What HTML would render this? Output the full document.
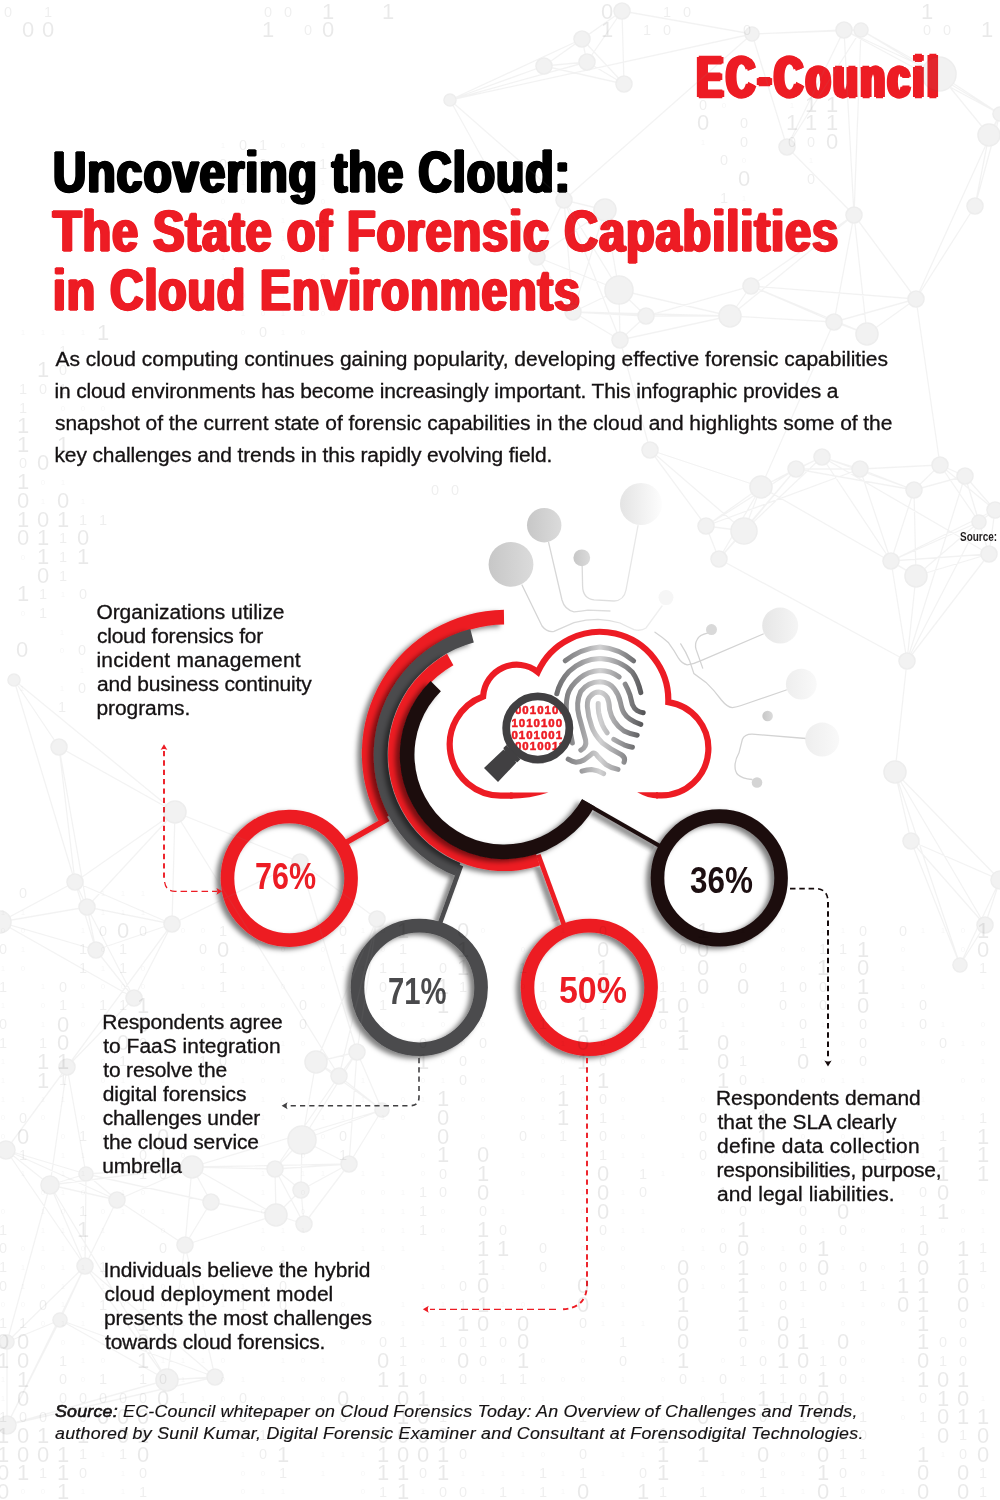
<!DOCTYPE html>
<html lang="en">
<head>
<meta charset="utf-8">
<title>Uncovering the Cloud: The State of Forensic Capabilities in Cloud Environments</title>
<style>
*{box-sizing:border-box;margin:0;padding:0}
html,body{width:1000px;height:1500px;background:#fff;overflow:hidden}
body{font-family:"Liberation Sans",sans-serif;color:#1d1a1b;position:relative}
#page{position:relative;width:1000px;height:1500px;overflow:hidden;background:#fff}
#bg,#art{position:absolute;left:0;top:0;width:1000px;height:1500px}
#bg{pointer-events:none}
.abs{position:absolute;white-space:nowrap}
.logo{left:697.4px;top:44px;font-weight:700;font-size:57px;line-height:66px;color:#ed1c24;transform-origin:0 0;transform:scaleX(.685);letter-spacing:5px;-webkit-text-stroke:2.4px #ed1c24;text-shadow:4px 0 0 #ed1c24,-4px 0 0 #ed1c24,2px 0 0 #ed1c24,-2px 0 0 #ed1c24}
h1{position:absolute;left:52.6px;top:142.6px;font-weight:700;font-size:57px;line-height:59px;color:#000;white-space:nowrap;letter-spacing:1.4px;-webkit-text-stroke:1.4px currentColor;text-shadow:2px 0 0 currentColor,-2px 0 0 currentColor,1px 0 0 currentColor,-1px 0 0 currentColor}
h1 span{display:block;transform-origin:0 0;transform:scaleX(.80)}
h1 .red{color:#ed1c24}
.intro,.label,.source{position:absolute;white-space:nowrap;color:#151213;transform-origin:0 0;transform:scaleX(1.075);-webkit-text-stroke:.3px #151213}
.intro span,.label span,.source span{display:block}
.pct{position:absolute;font-weight:700;font-size:36px;line-height:36px;white-space:nowrap;transform-origin:0 0;transform:scaleX(.88)}
.source{font-style:italic;-webkit-text-stroke:.15px #151213}
.source b{font-weight:400;-webkit-text-stroke:.6px #151213}
.src2{position:absolute;left:960px;top:529.5px;font-size:12px;font-weight:700;line-height:14px;white-space:nowrap;color:#1d1a1b;transform-origin:0 0;transform:scaleX(.83)}
</style>
</head>
<body>
<div id="page">
<svg id="art" width="1000" height="1500" viewBox="0 0 1000 1500">
<defs>
<filter id="sh" x="-20%" y="-20%" width="140%" height="140%"><feDropShadow dx="-4.6" dy="2.6" stdDeviation="2.6" flood-color="#000" flood-opacity=".5"/></filter>
<linearGradient id="fp" gradientUnits="userSpaceOnUse" x1="554" y1="0" x2="646" y2="0">
<stop offset="0" stop-color="#6a6a6c"/><stop offset=".3" stop-color="#9d9d9f"/><stop offset=".5" stop-color="#d2d2d3"/><stop offset=".7" stop-color="#9d9d9f"/><stop offset="1" stop-color="#4f4f51"/></linearGradient>
<linearGradient id="cg" x1="0" y1="0" x2="1" y2="0"><stop offset="0" stop-color="#c7c7c7"/><stop offset="1" stop-color="#dbdbdb"/></linearGradient>
<linearGradient id="cg2" x1="0" y1="0" x2="1" y2="0"><stop offset="0" stop-color="#e4e4e4"/><stop offset="1" stop-color="#fdfdfd"/></linearGradient>
<linearGradient id="cg3" x1="0" y1="0" x2="1" y2="0"><stop offset="0" stop-color="#e6e6e6"/><stop offset="1" stop-color="#f5f5f5"/></linearGradient>
<linearGradient id="cg4" x1="0" y1="0" x2="1" y2="0"><stop offset="0" stop-color="#eeeeee"/><stop offset="1" stop-color="#f9f9f9"/></linearGradient>
<linearGradient id="lg" gradientUnits="userSpaceOnUse" x1="520" y1="0" x2="665" y2="0"><stop offset="0" stop-color="#d2d2d2"/><stop offset=".6" stop-color="#dedede"/><stop offset="1" stop-color="#f2f2f2"/></linearGradient>
<linearGradient id="s36" gradientUnits="userSpaceOnUse" x1="593.9" y1="810.8" x2="589.2" y2="819.0"><stop offset="0" stop-color="#000" stop-opacity=".2"/><stop offset=".5" stop-color="#000" stop-opacity=".08"/><stop offset="1" stop-color="#000" stop-opacity="0"/></linearGradient><linearGradient id="s50" gradientUnits="userSpaceOnUse" x1="540.2" y1="866.9" x2="532.2" y2="869.8"><stop offset="0" stop-color="#000" stop-opacity=".2"/><stop offset=".5" stop-color="#000" stop-opacity=".08"/><stop offset="1" stop-color="#000" stop-opacity="0"/></linearGradient><linearGradient id="s71" gradientUnits="userSpaceOnUse" x1="454.8" y1="875.9" x2="448.7" y2="873.7"><stop offset="0" stop-color="#000" stop-opacity=".2"/><stop offset=".5" stop-color="#000" stop-opacity=".08"/><stop offset="1" stop-color="#000" stop-opacity="0"/></linearGradient>
<clipPath id="lens"><circle cx="537.8" cy="728" r="28.2"/></clipPath>
</defs>
<!-- circuit decoration -->
<g fill="none" stroke="url(#lg)" stroke-width="1.3" stroke-linecap="round">
<path d="M522,585 L542,626 Q547,632.5 554,631.4 Q564,627 574,622.6 Q586,619.4 598,619.4 Q610,620 620,623 Q628,627 634,629.6 Q641,631.5 646,628 L662,606"/>
<path d="M548.6,542.4 L562,600 Q564.5,609.5 574,611.8 Q581,611.5 588,610.2 L610,611"/>
<path d="M582.2,566 L582.6,586 Q582.8,598.6 594,599.8 L614,601 Q624,600.5 626,590 L638,525.6"/>
</g>
<g fill="none" stroke="#d3d3d3" stroke-width="1.3" stroke-linecap="round">
<path d="M655,632.2 Q663,637.5 668.6,642.8 Q674,650 678.5,658.2 Q682,664 687.3,664.8 Q694,664 701.6,660.4 L763.2,634"/>
<path d="M680.7,643.9 Q686,652 689.5,660.4 L693.9,673.6 L706,682.4 Q714,690 721.4,700 Q727,707 732.4,707.7 Q737,707 741.2,705.5 L786.3,690"/>
<path d="M708.2,632.9 Q699,635 697.2,639.5 Q694.5,644 696.1,649.4 L702.7,668.1"/>
<path d="M806,738.5 L752.2,734.1 Q744.5,734 742.3,739.6 L739,752.8 Q735,760 735,766 Q735,772 738,774.8 Q742,778.5 752,779.5"/>
</g>
<g>
<circle cx="511" cy="564.4" r="22.4" fill="url(#cg)"/>
<circle cx="544.2" cy="525.2" r="17.2" fill="url(#cg)"/>
<circle cx="641" cy="504" r="21" fill="url(#cg2)"/>
<circle cx="581.8" cy="557.8" r="8.4" fill="url(#cg)"/>
<circle cx="666" cy="597.6" r="7.5" fill="#f6f6f6"/>
<circle cx="780.2" cy="625.6" r="18" fill="url(#cg3)"/>
<circle cx="711.5" cy="629.6" r="5.5" fill="#d9d9d9"/>
<circle cx="801.3" cy="684.2" r="15.4" fill="url(#cg4)"/>
<circle cx="767.6" cy="716" r="5.3" fill="url(#cg)"/>
<circle cx="822.2" cy="739.6" r="17" fill="url(#cg4)"/>
<circle cx="757" cy="782.5" r="5.3" fill="#d4d4d4"/>
</g>
<!-- lollipops -->
<g><path d="M593.9,810.8 L654.8,845.4 L650.1,853.7 L589.2,819.0Z" fill="url(#s36)"/><path d="M540.2,866.9 L559.5,919.5 L551.5,922.4 L532.2,869.8Z" fill="url(#s50)"/><path d="M454.8,875.9 L438.4,921.0 L432.3,918.8 L448.7,873.7Z" fill="url(#s71)"/></g>
<g filter="url(#sh)" fill="#ed1c24">
<path d="M503.9,609.8 A143.8,143.8 0 0 0 378.7,821.1 L391.8,814.2 A129.0,129.0 0 0 1 504.1,624.6 Z"/>
<path d="M386.7,816.0 L340.1,842.8 L342.9,847.6 L389.5,820.9Z"/>
<circle cx="289.3" cy="878.3" r="61.8" fill="none" stroke="#ed1c24" stroke-width="13.6"/>
</g>
<g filter="url(#sh)" fill="#4b4b4d">
<path d="M470.3,629.1 A130.3,130.3 0 0 0 455.2,875.8 L460.4,863.0 A116.5,116.5 0 0 1 473.8,642.5 Z"/>
<path d="M458.9,864.6 L436.0,927.6 L440.3,929.1 L463.2,866.2Z"/>
<circle cx="419.3" cy="987.4" r="61.8" fill="none" stroke="#4b4b4d" stroke-width="13.6"/>
</g>
<g filter="url(#sh)" fill="#ed1c24">
<path d="M447.0,653.8 A116.2,116.2 0 0 0 539.9,865.5 L535.8,853.0 A103.0,103.0 0 0 1 453.4,665.3 Z"/>
<path d="M536.1,855.6 L563.7,930.9 L568.1,929.3 L540.5,854.0Z"/>
<circle cx="589.3" cy="987.4" r="61.8" fill="none" stroke="#ed1c24" stroke-width="13.6"/>
</g>
<g filter="url(#sh)" fill="#1d0f11">
<path d="M430.6,680.9 A104.3,104.3 0 1 0 594.8,806.4 L582.1,799.2 A89.7,89.7 0 1 1 440.9,691.2 Z"/>
<path d="M582.1,799.2 L665.7,846.9 L663.6,850.5 L580.0,802.8Z"/>
<circle cx="719.3" cy="877.9" r="61.8" fill="none" stroke="#1d0f11" stroke-width="13.6"/>
</g>
<!-- cloud -->
<g>
<path d="M512.6,795.7 H500.6 A51.2,51.2 0 0 1 483.1,696.5 A33.8,33.8 0 0 1 537.8,672.0 A68.3,68.3 0 0 1 668.3,702.1 A46.9,46.9 0 0 1 661.6,795.4 H656" fill="none" stroke="#ed1c24" stroke-width="6.2" stroke-linejoin="miter" stroke-miterlimit="6"/>
<path d="M510,792.6 L548.5,792.6 Q530,798.8 510,798.8Z" fill="#ed1c24"/>
<path d="M658,792.3 L637.2,792.3 Q648,798.5 658,798.5Z" fill="#ed1c24"/>
</g>
<!-- fingerprint -->
<g fill="none" stroke="url(#fp)" stroke-width="5" stroke-linecap="round" stroke-linejoin="round">
<path d="M565.2,660.8 Q581,648.5 600,647 Q619,648.5 633.6,660.8"/>
<path d="M556.8,693.8 Q560,681 569,671.5 Q582,659 600,658.4 Q620,659.5 632.4,672.2 Q638,680 640.8,692.6"/>
<path d="M619.2,677 Q611,670.5 600,670.4 Q588,671 579.6,678.2 Q570,686 567.6,695 Q565,706 567.5,718 L572.4,743"/>
<path d="M580.8,750.2 Q587,747 585.6,740 L579,716 Q575.5,703 580.8,691.4 Q588,682 600,681.8 Q610,682.5 614.4,689 Q619,695 620.4,702.2 Q622,710 624,713 Q628,720 640.8,724.4"/>
<path d="M624,762.2 Q626,757.5 621,754.5 Q610,749 602.4,743 Q594,734 591.6,726.2 Q588,716 587.4,707 Q587,699 590.4,696.2 Q594,692 598.8,692 Q604,692.5 607.2,697.4 Q609.3,702 609.6,709.4 Q611,716 614.4,721.4 Q618,727 624,731 Q630,734 637.2,735.2"/>
<path d="M598.2,703.4 Q598,708 598.8,713 Q600,719 602.4,725 Q604.5,729.5 607.2,732.8"/>
<path d="M625.2,684.2 Q628,689 630,695 L632.4,704.6 Q634,708.5 637.2,710.6 Q640,712.3 643.2,712.8"/>
<path d="M613.8,739.4 Q619,742.5 624,744.8 Q628,746.3 632.4,747.2"/>
<path d="M568.2,759.2 Q572,761.5 576,762.2 Q580.5,762 584.4,759.8 Q589,756.5 592.8,753.2 Q595,752.5 597.6,756.2 Q602,761 606,764.6 Q611,768 618,769.4"/>
<path d="M582,771.2 Q587,769.6 591.6,769.4 Q598,770 603.6,773.6"/>
</g>
<!-- magnifier -->
<g>
<circle cx="537.8" cy="728" r="28.5" fill="#fff"/>
<g clip-path="url(#lens)" font-family="'Liberation Sans',sans-serif" font-weight="700" font-size="11.4" fill="#ed1c24" stroke="#ed1c24" stroke-width=".55" letter-spacing="1.05">
<text x="507.6" y="714.4">00010100</text>
<text x="511.4" y="726.5">1010100</text>
<text x="511.4" y="738.5">0101001</text>
<text x="507.6" y="750.4">00010011</text>
</g>
<circle cx="537.8" cy="728" r="31.6" fill="none" stroke="#414042" stroke-width="7.8"/>
<path d="M503.5,749.5 L516.5,762.5 L498,782 L484,768Z" fill="#414042"/>
<path d="M503.4,748 L506.4,745 L520.4,759.2 L517.4,762.2 L512,760 L506,754Z" fill="#414042"/>
</g>
<!-- dashed leaders -->
<g fill="none" stroke="#ed1c24">
<path d="M164,751 V880" stroke-width="1.9" stroke-dasharray="5.3 4.05"/>
<path d="M164.6,882 Q166,891.3 175,891.3 H217" stroke-width="1.3" stroke-dasharray="6.5 4"/>
<path d="M587,1058 V1262" stroke-width="1.9" stroke-dasharray="5.3 4.05"/>
<path d="M587,1262 V1284 Q587,1309.3 560,1309.3" stroke-width="1.9" stroke-dasharray="5.3 4.05"/>
<path d="M556,1309.3 H430" stroke-width="1.2" stroke-dasharray="7 4"/>
</g>
<g fill="#ed1c24">
<path d="M164,744.2 L167.4,750 Q164,748 160.6,750Z"/>
<path d="M222.2,891.3 L216.4,894.7 Q218.4,891.3 216.4,887.9Z"/>
<path d="M422.8,1309.3 L428.8,1305.8 Q426.8,1309.3 428.8,1312.8Z"/>
</g>
<g fill="none" stroke="#414042">
<path d="M419,1058 V1097 Q419,1105.7 410,1105.7 H288" stroke-width="1.6" stroke-dasharray="5.2 4.1"/>
</g>
<path d="M281.6,1105.7 L287.6,1102.2 Q285.6,1105.7 287.6,1109.2Z" fill="#414042"/>
<g fill="none" stroke="#140a0b">
<path d="M790,888.6 H815 Q828,888.6 828,902" stroke-width="1.6" stroke-dasharray="5.5 3.8"/>
<path d="M828,902 V1059" stroke-width="2" stroke-dasharray="5.5 3.8"/>
</g>
<path d="M828,1066.6 L824.4,1060.4 Q828,1062.6 831.6,1060.4Z" fill="#140a0b"/>
</svg>
<header>
<div class="abs logo">EC-Council</div>
<h1><span style="transform:scaleX(.809)">Uncovering the Cloud:</span><span class="red" style="transform:scaleX(.8165)">The State of Forensic Capabilities</span><span class="red" style="transform:scaleX(.808)">in Cloud Environments</span></h1>
</header>
<div class="src2">Source:</div>
<section>
<p class="intro" style="left:55.7px;top:343.0px;font-size:19.5px;line-height:32px"><span style="letter-spacing:0.00px;margin-left:-0.4px">As cloud computing continues gaining popularity, developing effective forensic capabilities</span><span style="letter-spacing:-0.13px;margin-left:-1.4px">in cloud environments has become increasingly important. This infographic provides a</span><span style="letter-spacing:-0.04px;margin-left:-0.9px">snapshot of the current state of forensic capabilities in the cloud and highlights some of the</span><span style="letter-spacing:-0.11px;margin-left:-1.4px">key challenges and trends in this rapidly evolving field.</span></p>
<article class="stat">
<div class="pct" style="left:255.0px;top:859.4px;color:#ed1c24;transform:scaleX(0.847)">76%</div>
<p class="label" style="left:97.5px;top:599.8px;font-size:19.5px;line-height:24px"><span style="letter-spacing:-0.03px;margin-left:-1.5px">Organizations utilize</span><span style="letter-spacing:-0.20px;margin-left:-1.0px">cloud forensics for</span><span style="letter-spacing:0.20px;margin-left:-1.5px">incident management</span><span style="letter-spacing:-0.13px;margin-left:-1.0px">and business continuity</span><span style="letter-spacing:-0.05px;margin-left:-1.5px">programs.</span></p>
</article>
<article class="stat">
<div class="pct" style="left:388.0px;top:973.8px;color:#4a4a4c;transform:scaleX(0.812)">71%</div>
<p class="label" style="left:103.6px;top:1009.6px;font-size:19.5px;line-height:24px"><span style="letter-spacing:-0.15px;margin-left:-1.7px">Respondents agree</span><span style="letter-spacing:0.01px;margin-left:-0.7px">to FaaS integration</span><span style="letter-spacing:-0.14px;margin-left:-0.7px">to resolve the</span><span style="letter-spacing:-0.04px;margin-left:-1.2px">digital forensics</span><span style="letter-spacing:-0.13px;margin-left:-1.2px">challenges under</span><span style="letter-spacing:-0.09px;margin-left:-0.7px">the cloud service</span><span style="letter-spacing:-0.09px;margin-left:-1.7px">umbrella</span></p>
</article>
<article class="stat">
<div class="pct" style="left:559.0px;top:973.4px;color:#ed1c24;transform:scaleX(0.942)">50%</div>
<p class="label" style="left:105.0px;top:1257.6px;font-size:19.5px;line-height:24px"><span style="letter-spacing:-0.07px;margin-left:-1.5px">Individuals believe the hybrid</span><span style="letter-spacing:0.07px;margin-left:-0.5px">cloud deployment model</span><span style="letter-spacing:-0.16px;margin-left:-1.0px">presents the most challenges</span><span style="letter-spacing:-0.18px;margin-left:0.0px">towards cloud forensics.</span></p>
</article>
<article class="stat">
<div class="pct" style="left:690.0px;top:863.4px;color:#1d0f11;transform:scaleX(0.873)">36%</div>
<p class="label" style="left:717.7px;top:1086.0px;font-size:19.5px;line-height:24px"><span style="letter-spacing:-0.02px;margin-left:-1.9px">Respondents demand</span><span style="letter-spacing:-0.08px;margin-left:-0.4px">that the SLA clearly</span><span style="letter-spacing:0.25px;margin-left:-0.9px">define data collection</span><span style="letter-spacing:-0.21px;margin-left:-1.4px">responsibilities, purpose,</span><span style="letter-spacing:0.07px;margin-left:-0.9px">and legal liabilities.</span></p>
</article>
</section>
<footer>
<p class="source" style="left:55.0px;top:1401.3px;font-size:16.6px;line-height:22px"><span style="letter-spacing:0.19px;margin-left:0.0px"><b>Source:</b> EC-Council whitepaper on Cloud Forensics Today: An Overview of Challenges and Trends,</span><span style="letter-spacing:0.23px;margin-left:0.0px">authored by Sunil Kumar, Digital Forensic Examiner and Consultant at Forensodigital Technologies.</span></p>
</footer>
<svg id="bg" width="1000" height="1500" viewBox="0 0 1000 1500" aria-hidden="true">
<g opacity=".1"><path fill="none" stroke="#8c8c8c" stroke-width="1.3" d="M622,11L582,39M622,11L544,66M622,11L587,62M622,11L624,84M622,11L752,34M582,39L544,66M582,39L587,62M582,39L624,84M582,39L450,100M544,66L587,62M544,66L624,84M544,66L450,100M587,62L624,84M587,62L450,100M752,34L844,30M752,34L861,30M752,34L787,147M752,34L564,200M752,34L450,100M844,30L861,30M844,30L787,147M844,30L1000,114M844,30L854,215M844,30L939,74M861,30L787,147M861,30L1000,114M861,30L854,215M861,30L939,74M787,147L854,215M989,135L1000,114M989,135L975,206M989,135L939,74M1000,114L975,206M1000,114L916,299M1000,114L939,74M975,206L916,299M854,215L751,286M854,215L916,299M854,215L730,316M854,215L867,334M854,215L834,322M605,210L564,200M605,210L537,257M605,210L619,290M605,210L573,312M564,200L537,257M564,200L619,290M564,200L620,340M564,200L573,312M564,200L450,100M537,257L619,290M537,257L573,312M537,257L450,100M619,290L730,316M619,290L646,316M619,290L620,340M619,290L573,312M751,286L916,299M751,286L730,316M751,286L646,316M751,286L867,334M751,286L834,322M916,299L867,334M916,299L834,322M916,299L940,465M730,316L646,316M730,316L834,322M730,316L620,340M730,316L573,312M646,316L620,340M646,316L573,312M867,334L834,322M834,322L761,487M620,340L573,312M620,340L650,450M761,487L744,531M761,487L706,526M761,487L719,559M761,487L796,469M761,487L822,457M761,487L916,576M761,487L650,450M744,531L706,526M744,531L719,559M744,531L796,469M744,531L822,457M744,531L650,450M706,526L719,559M706,526L796,469M706,526L860,469M706,526L650,450M719,559L796,469M719,559L907,661M796,469L822,457M796,469L860,469M796,469L914,490M822,457L860,469M822,457L914,490M822,457L989,554M822,457L891,561M860,469L914,490M860,469L940,465M860,469L891,561M914,490L940,465M914,490L965,476M914,490L891,561M914,490L916,576M940,465L965,476M940,465L995,510M940,465L979,522M965,476L995,510M965,476L989,554M965,476L979,522M965,476L907,661M995,510L989,554M995,510L979,522M995,510L891,561M989,554L979,522M989,554L891,561M989,554L916,576M989,554L907,661M979,522L891,561M979,522L916,576M979,522L907,661M891,561L916,576M891,561L907,661M916,576L907,661M907,661L895,772M895,772L911,841M895,772L985,925M895,772L1000,880M895,772L960,965M911,841L985,925M911,841L1000,880M911,841L960,965M87,907L172,924M87,907L0,922M87,907L96,950M87,907L134,998M87,907L59,747M87,907L175,812M87,907L75,882M172,924L96,950M172,924L134,998M172,924L67,1067M172,924L175,812M172,924L75,882M172,924L300,862M0,922L96,950M0,922L134,998M0,922L75,882M96,950L134,998M96,950L75,882M134,998L67,1067M377,919L316,1062M377,919L339,1076M377,919L357,1052M377,919L300,862M67,1067L50,1185M67,1067L86,1174M67,1067L6,1150M316,1062L339,1076M316,1062L357,1052M316,1062L382,1110M316,1062L302,1140M339,1076L357,1052M339,1076L382,1110M339,1076L275,1169M339,1076L175,812M357,1052L382,1110M357,1052L302,1140M357,1052L349,1164M357,1052L300,862M382,1110L302,1140M382,1110L349,1164M382,1110L192,1167M302,1140L349,1164M302,1140L275,1169M302,1140L301,1190M349,1164L275,1169M349,1164L301,1190M349,1164L192,1167M349,1164L304,1224M275,1169L301,1190M275,1169L192,1167M275,1169L276,1215M275,1169L304,1224M301,1190L276,1215M301,1190L304,1224M211,1202L192,1167M211,1202L86,1174M211,1202L276,1215M211,1202L185,1245M192,1167L117,1200M192,1167L50,1185M192,1167L86,1174M192,1167L276,1215M192,1167L185,1245M117,1200L50,1185M117,1200L86,1174M117,1200L6,1150M117,1200L185,1245M117,1200L85,1266M50,1185L86,1174M50,1185L6,1150M50,1185L85,1266M50,1185L7,1342M50,1185L167,1380M86,1174L6,1150M86,1174L85,1266M276,1215L304,1224M276,1215L185,1245M6,1150L85,1266M185,1245L215,1377M185,1245L167,1380M59,747L175,812M59,747L75,882M59,747L14,680M175,812L75,882M175,812L300,862M175,812L14,680M75,882L14,680M85,1266L215,1377M85,1266L7,1342M85,1266L60,1320M85,1266L167,1380M85,1266L7,1425M215,1377L60,1320M215,1377L167,1380M215,1377L7,1425M7,1342L60,1320M7,1342L7,1425M60,1320L167,1380M60,1320L7,1425M167,1380L7,1425M985,925L1000,880M985,925L960,965M1000,880L960,965"/><g fill="#8a8a8a" stroke="#5c5c5c" stroke-width="1.6"><circle cx="622" cy="11" r="8"/><circle cx="582" cy="39" r="8"/><circle cx="544" cy="66" r="8"/><circle cx="587" cy="62" r="8"/><circle cx="624" cy="84" r="8"/><circle cx="752" cy="34" r="7"/><circle cx="844" cy="30" r="8"/><circle cx="861" cy="30" r="7"/><circle cx="787" cy="147" r="8"/><circle cx="989" cy="135" r="11"/><circle cx="1000" cy="114" r="7"/><circle cx="975" cy="206" r="8"/><circle cx="854" cy="215" r="8"/><circle cx="605" cy="210" r="11"/><circle cx="564" cy="200" r="8"/><circle cx="537" cy="257" r="8"/><circle cx="619" cy="290" r="14"/><circle cx="751" cy="286" r="8"/><circle cx="916" cy="299" r="8"/><circle cx="730" cy="316" r="11"/><circle cx="646" cy="316" r="8"/><circle cx="867" cy="334" r="11"/><circle cx="834" cy="322" r="8"/><circle cx="620" cy="340" r="8"/><circle cx="573" cy="312" r="8"/><circle cx="939" cy="74" r="17"/><circle cx="761" cy="487" r="11"/><circle cx="744" cy="531" r="13"/><circle cx="706" cy="526" r="8"/><circle cx="719" cy="559" r="8"/><circle cx="796" cy="469" r="8"/><circle cx="822" cy="457" r="8"/><circle cx="860" cy="469" r="8"/><circle cx="914" cy="490" r="8"/><circle cx="940" cy="465" r="8"/><circle cx="965" cy="476" r="8"/><circle cx="995" cy="510" r="8"/><circle cx="989" cy="554" r="8"/><circle cx="979" cy="522" r="7"/><circle cx="891" cy="561" r="8"/><circle cx="916" cy="576" r="11"/><circle cx="907" cy="661" r="8"/><circle cx="895" cy="772" r="11"/><circle cx="911" cy="841" r="8"/><circle cx="650" cy="450" r="8"/><circle cx="87" cy="907" r="8"/><circle cx="172" cy="924" r="8"/><circle cx="0" cy="922" r="11"/><circle cx="96" cy="950" r="8"/><circle cx="134" cy="998" r="8"/><circle cx="377" cy="919" r="8"/><circle cx="67" cy="1067" r="8"/><circle cx="316" cy="1062" r="11"/><circle cx="339" cy="1076" r="8"/><circle cx="357" cy="1052" r="8"/><circle cx="382" cy="1110" r="7"/><circle cx="302" cy="1140" r="14"/><circle cx="349" cy="1164" r="8"/><circle cx="275" cy="1169" r="8"/><circle cx="301" cy="1190" r="8"/><circle cx="211" cy="1202" r="8"/><circle cx="192" cy="1167" r="11"/><circle cx="117" cy="1200" r="8"/><circle cx="50" cy="1185" r="9"/><circle cx="86" cy="1174" r="7"/><circle cx="276" cy="1215" r="11"/><circle cx="304" cy="1224" r="8"/><circle cx="6" cy="1150" r="9"/><circle cx="185" cy="1245" r="8"/><circle cx="59" cy="747" r="8"/><circle cx="175" cy="812" r="11"/><circle cx="75" cy="882" r="8"/><circle cx="300" cy="862" r="8"/><circle cx="14" cy="680" r="6"/><circle cx="85" cy="1266" r="8"/><circle cx="215" cy="1377" r="8"/><circle cx="7" cy="1342" r="7"/><circle cx="60" cy="1320" r="7"/><circle cx="167" cy="1380" r="11"/><circle cx="7" cy="1425" r="9"/><circle cx="450" cy="100" r="6"/><circle cx="985" cy="925" r="8"/><circle cx="1000" cy="880" r="9"/><circle cx="960" cy="965" r="7"/></g></g>
<g font-family="'Liberation Sans',sans-serif" text-anchor="middle">
<g font-size="22" fill="#000" fill-opacity="0.088"><text x="103" y="339.6">1</text><text x="123" y="938.0">0</text><text x="403" y="938.0">1</text><text x="463" y="938.0">0</text><text x="703" y="938.0">1</text><text x="983" y="938.0">1</text><text x="223" y="956.7">0</text><text x="463" y="956.7">1</text><text x="603" y="956.7">0</text><text x="703" y="956.7">0</text><text x="863" y="956.7">1</text><text x="983" y="956.7">0</text><text x="463" y="975.4">1</text><text x="603" y="975.4">1</text><text x="703" y="975.4">0</text><text x="823" y="975.4">1</text><text x="863" y="975.4">0</text><text x="443" y="994.1">1</text><text x="603" y="994.1">1</text><text x="703" y="994.1">0</text><text x="743" y="994.1">0</text><text x="863" y="994.1">1</text><text x="143" y="1012.8">1</text><text x="443" y="1012.8">1</text><text x="663" y="1012.8">1</text><text x="683" y="1012.8">0</text><text x="863" y="1012.8">0</text><text x="63" y="1031.5">0</text><text x="143" y="1031.5">0</text><text x="583" y="1031.5">1</text><text x="683" y="1031.5">1</text><text x="63" y="1050.2">0</text><text x="123" y="1050.2">0</text><text x="583" y="1050.2">0</text><text x="683" y="1050.2">1</text><text x="723" y="1050.2">0</text><text x="43" y="1068.9">1</text><text x="63" y="1068.9">1</text><text x="423" y="1068.9">1</text><text x="583" y="1068.9">1</text><text x="723" y="1068.9">0</text><text x="803" y="1068.9">0</text><text x="43" y="1087.6">1</text><text x="603" y="1087.6">1</text><text x="723" y="1087.6">1</text><text x="443" y="1106.3">1</text><text x="563" y="1106.3">1</text><text x="443" y="1125.0">0</text><text x="563" y="1125.0">1</text><text x="763" y="1125.0">1</text><text x="23" y="1143.7">0</text><text x="163" y="1143.7">0</text><text x="443" y="1143.7">0</text><text x="763" y="1143.7">1</text><text x="983" y="1143.7">1</text><text x="163" y="1162.4">1</text><text x="443" y="1162.4">1</text><text x="483" y="1162.4">0</text><text x="943" y="1162.4">1</text><text x="983" y="1162.4">1</text><text x="483" y="1181.1">1</text><text x="603" y="1181.1">0</text><text x="843" y="1181.1">0</text><text x="943" y="1181.1">1</text><text x="983" y="1181.1">1</text><text x="483" y="1199.8">0</text><text x="603" y="1199.8">0</text><text x="843" y="1199.8">1</text><text x="943" y="1199.8">0</text><text x="603" y="1218.5">0</text><text x="843" y="1218.5">0</text><text x="943" y="1218.5">1</text><text x="83" y="1237.2">1</text><text x="483" y="1237.2">1</text><text x="743" y="1237.2">1</text><text x="483" y="1255.9">1</text><text x="503" y="1255.9">1</text><text x="743" y="1255.9">0</text><text x="823" y="1255.9">1</text><text x="923" y="1255.9">0</text><text x="963" y="1255.9">1</text><text x="283" y="1274.6">1</text><text x="483" y="1274.6">1</text><text x="683" y="1274.6">0</text><text x="743" y="1274.6">1</text><text x="823" y="1274.6">0</text><text x="923" y="1274.6">0</text><text x="963" y="1274.6">1</text><text x="483" y="1293.3">0</text><text x="583" y="1293.3">0</text><text x="683" y="1293.3">0</text><text x="743" y="1293.3">1</text><text x="903" y="1293.3">1</text><text x="923" y="1293.3">1</text><text x="963" y="1293.3">0</text><text x="483" y="1312.0">1</text><text x="583" y="1312.0">0</text><text x="683" y="1312.0">1</text><text x="743" y="1312.0">1</text><text x="903" y="1312.0">0</text><text x="923" y="1312.0">1</text><text x="963" y="1312.0">0</text><text x="143" y="1330.7">1</text><text x="463" y="1330.7">1</text><text x="483" y="1330.7">0</text><text x="523" y="1330.7">0</text><text x="683" y="1330.7">0</text><text x="743" y="1330.7">1</text><text x="783" y="1330.7">0</text><text x="923" y="1330.7">1</text><text x="3" y="1349.4">0</text><text x="23" y="1349.4">0</text><text x="143" y="1349.4">0</text><text x="523" y="1349.4">0</text><text x="683" y="1349.4">0</text><text x="783" y="1349.4">0</text><text x="803" y="1349.4">1</text><text x="843" y="1349.4">0</text><text x="923" y="1349.4">1</text><text x="3" y="1368.1">1</text><text x="23" y="1368.1">0</text><text x="143" y="1368.1">1</text><text x="383" y="1368.1">0</text><text x="463" y="1368.1">0</text><text x="523" y="1368.1">1</text><text x="683" y="1368.1">1</text><text x="783" y="1368.1">1</text><text x="803" y="1368.1">0</text><text x="923" y="1368.1">0</text><text x="23" y="1386.8">1</text><text x="383" y="1386.8">1</text><text x="403" y="1386.8">1</text><text x="823" y="1386.8">1</text><text x="923" y="1386.8">1</text><text x="943" y="1386.8">0</text><text x="963" y="1386.8">1</text><text x="23" y="1405.5">0</text><text x="163" y="1405.5">0</text><text x="343" y="1405.5">0</text><text x="403" y="1405.5">0</text><text x="423" y="1405.5">1</text><text x="763" y="1405.5">1</text><text x="823" y="1405.5">0</text><text x="943" y="1405.5">1</text><text x="963" y="1405.5">0</text><text x="103" y="1424.2">0</text><text x="123" y="1424.2">0</text><text x="143" y="1424.2">0</text><text x="403" y="1424.2">1</text><text x="423" y="1424.2">0</text><text x="703" y="1424.2">0</text><text x="823" y="1424.2">0</text><text x="943" y="1424.2">0</text><text x="963" y="1424.2">1</text><text x="983" y="1424.2">1</text><text x="3" y="1442.9">1</text><text x="23" y="1442.9">0</text><text x="43" y="1442.9">1</text><text x="83" y="1442.9">1</text><text x="123" y="1442.9">0</text><text x="143" y="1442.9">1</text><text x="383" y="1442.9">0</text><text x="403" y="1442.9">0</text><text x="423" y="1442.9">0</text><text x="443" y="1442.9">0</text><text x="663" y="1442.9">1</text><text x="943" y="1442.9">0</text><text x="983" y="1442.9">0</text><text x="3" y="1461.6">1</text><text x="23" y="1461.6">0</text><text x="43" y="1461.6">0</text><text x="63" y="1461.6">1</text><text x="143" y="1461.6">0</text><text x="283" y="1461.6">1</text><text x="383" y="1461.6">1</text><text x="403" y="1461.6">0</text><text x="423" y="1461.6">0</text><text x="443" y="1461.6">1</text><text x="663" y="1461.6">1</text><text x="703" y="1461.6">1</text><text x="763" y="1461.6">0</text><text x="823" y="1461.6">0</text><text x="923" y="1461.6">1</text><text x="983" y="1461.6">0</text><text x="3" y="1480.3">0</text><text x="23" y="1480.3">1</text><text x="63" y="1480.3">1</text><text x="383" y="1480.3">1</text><text x="403" y="1480.3">1</text><text x="443" y="1480.3">1</text><text x="663" y="1480.3">1</text><text x="823" y="1480.3">1</text><text x="923" y="1480.3">0</text><text x="963" y="1480.3">0</text><text x="3" y="1499.0">0</text><text x="63" y="1499.0">1</text><text x="403" y="1499.0">1</text><text x="583" y="1499.0">0</text><text x="643" y="1499.0">1</text><text x="823" y="1499.0">0</text><text x="923" y="1499.0">0</text><text x="963" y="1499.0">0</text><text x="3" y="1517.7">0</text><text x="63" y="1517.7">0</text><text x="403" y="1517.7">0</text><text x="483" y="1517.7">0</text><text x="903" y="1517.7">0</text><text x="923" y="1517.7">0</text><text x="963" y="1517.7">1</text><text x="43" y="377.3">1</text><text x="23" y="433.3">1</text><text x="23" y="452.3">1</text><text x="63" y="452.3">1</text><text x="43" y="470.3">0</text><text x="23" y="489.3">1</text><text x="23" y="508.3">0</text><text x="63" y="508.3">0</text><text x="23" y="527.3">1</text><text x="43" y="527.3">0</text><text x="63" y="527.3">1</text><text x="23" y="545.3">0</text><text x="43" y="545.3">1</text><text x="83" y="545.3">0</text><text x="43" y="564.3">1</text><text x="83" y="564.3">1</text><text x="43" y="583.3">0</text><text x="23" y="601.3">1</text><text x="22" y="657.3">0</text><text x="811" y="112.3">1</text><text x="832" y="112.3">1</text><text x="703" y="130.3">0</text><text x="792" y="130.3">1</text><text x="811" y="130.3">1</text><text x="832" y="130.3">1</text><text x="832" y="149.3">0</text><text x="744" y="186.3">0</text><text x="28" y="37.3">0</text><text x="48" y="37.3">0</text><text x="328" y="19.3">1</text><text x="388" y="19.3">1</text><text x="268" y="37.3">1</text><text x="328" y="37.3">0</text><text x="607" y="19.3">0</text><text x="927" y="19.3">1</text><text x="607" y="37.3">1</text><text x="987" y="37.3">1</text></g>
<g font-size="14.5" fill="#000" fill-opacity="0.066"><text x="243" y="150.1">0</text><text x="263" y="150.1">1</text><text x="223" y="168.8">0</text><text x="263" y="168.8">0</text><text x="323" y="168.8">1</text><text x="283" y="187.5">1</text><text x="263" y="337.1">0</text><text x="23" y="898.1">0</text><text x="103" y="935.5">0</text><text x="143" y="935.5">0</text><text x="223" y="935.5">1</text><text x="343" y="935.5">0</text><text x="603" y="935.5">0</text><text x="863" y="935.5">0</text><text x="903" y="935.5">0</text><text x="3" y="954.2">0</text><text x="83" y="954.2">1</text><text x="123" y="954.2">1</text><text x="203" y="954.2">0</text><text x="343" y="954.2">1</text><text x="403" y="954.2">1</text><text x="683" y="954.2">0</text><text x="823" y="954.2">1</text><text x="843" y="954.2">1</text><text x="83" y="972.9">1</text><text x="123" y="972.9">1</text><text x="223" y="972.9">1</text><text x="383" y="972.9">1</text><text x="403" y="972.9">1</text><text x="443" y="972.9">0</text><text x="523" y="972.9">1</text><text x="743" y="972.9">0</text><text x="983" y="972.9">1</text><text x="3" y="991.6">1</text><text x="63" y="991.6">0</text><text x="223" y="991.6">1</text><text x="383" y="991.6">0</text><text x="463" y="991.6">1</text><text x="543" y="991.6">1</text><text x="663" y="991.6">1</text><text x="683" y="991.6">1</text><text x="783" y="991.6">1</text><text x="803" y="991.6">0</text><text x="823" y="991.6">0</text><text x="63" y="1010.3">1</text><text x="103" y="1010.3">1</text><text x="123" y="1010.3">1</text><text x="303" y="1010.3">0</text><text x="383" y="1010.3">1</text><text x="543" y="1010.3">0</text><text x="583" y="1010.3">0</text><text x="603" y="1010.3">1</text><text x="783" y="1010.3">0</text><text x="823" y="1010.3">0</text><text x="923" y="1010.3">0</text><text x="3" y="1029.0">0</text><text x="123" y="1029.0">1</text><text x="223" y="1029.0">1</text><text x="303" y="1029.0">0</text><text x="543" y="1029.0">1</text><text x="603" y="1029.0">1</text><text x="663" y="1029.0">0</text><text x="803" y="1029.0">0</text><text x="863" y="1029.0">0</text><text x="923" y="1029.0">0</text><text x="3" y="1047.7">1</text><text x="43" y="1047.7">1</text><text x="143" y="1047.7">0</text><text x="203" y="1047.7">1</text><text x="223" y="1047.7">0</text><text x="423" y="1047.7">0</text><text x="483" y="1047.7">0</text><text x="643" y="1047.7">1</text><text x="803" y="1047.7">1</text><text x="863" y="1047.7">0</text><text x="943" y="1047.7">0</text><text x="123" y="1066.4">1</text><text x="203" y="1066.4">1</text><text x="223" y="1066.4">0</text><text x="463" y="1066.4">0</text><text x="603" y="1066.4">0</text><text x="743" y="1066.4">1</text><text x="863" y="1066.4">0</text><text x="63" y="1085.1">1</text><text x="203" y="1085.1">0</text><text x="463" y="1085.1">0</text><text x="563" y="1085.1">1</text><text x="743" y="1085.1">0</text><text x="603" y="1103.8">0</text><text x="763" y="1103.8">1</text><text x="23" y="1122.5">0</text><text x="163" y="1122.5">0</text><text x="603" y="1122.5">1</text><text x="703" y="1122.5">0</text><text x="983" y="1122.5">1</text><text x="83" y="1141.2">1</text><text x="343" y="1141.2">0</text><text x="523" y="1141.2">0</text><text x="563" y="1141.2">1</text><text x="603" y="1141.2">0</text><text x="703" y="1141.2">0</text><text x="883" y="1141.2">1</text><text x="943" y="1141.2">1</text><text x="23" y="1159.9">1</text><text x="143" y="1159.9">0</text><text x="343" y="1159.9">1</text><text x="603" y="1159.9">1</text><text x="703" y="1159.9">0</text><text x="863" y="1159.9">1</text><text x="883" y="1159.9">1</text><text x="143" y="1178.6">1</text><text x="163" y="1178.6">0</text><text x="443" y="1178.6">0</text><text x="643" y="1178.6">1</text><text x="863" y="1178.6">1</text><text x="423" y="1197.3">1</text><text x="443" y="1197.3">0</text><text x="643" y="1197.3">0</text><text x="723" y="1197.3">1</text><text x="923" y="1197.3">0</text><text x="83" y="1216.0">1</text><text x="423" y="1216.0">1</text><text x="483" y="1216.0">0</text><text x="743" y="1216.0">0</text><text x="803" y="1216.0">0</text><text x="923" y="1216.0">1</text><text x="3" y="1234.7">1</text><text x="423" y="1234.7">1</text><text x="503" y="1234.7">0</text><text x="603" y="1234.7">0</text><text x="803" y="1234.7">0</text><text x="843" y="1234.7">0</text><text x="923" y="1234.7">1</text><text x="3" y="1253.4">0</text><text x="163" y="1253.4">0</text><text x="543" y="1253.4">0</text><text x="723" y="1253.4">0</text><text x="803" y="1253.4">0</text><text x="903" y="1253.4">1</text><text x="983" y="1253.4">1</text><text x="3" y="1272.1">1</text><text x="103" y="1272.1">1</text><text x="543" y="1272.1">0</text><text x="783" y="1272.1">0</text><text x="803" y="1272.1">0</text><text x="863" y="1272.1">0</text><text x="903" y="1272.1">1</text><text x="983" y="1272.1">1</text><text x="3" y="1290.8">0</text><text x="283" y="1290.8">0</text><text x="463" y="1290.8">0</text><text x="783" y="1290.8">0</text><text x="803" y="1290.8">1</text><text x="823" y="1290.8">0</text><text x="863" y="1290.8">1</text><text x="43" y="1309.5">0</text><text x="103" y="1309.5">1</text><text x="143" y="1309.5">1</text><text x="243" y="1309.5">1</text><text x="283" y="1309.5">0</text><text x="463" y="1309.5">1</text><text x="783" y="1309.5">0</text><text x="3" y="1328.2">1</text><text x="23" y="1328.2">1</text><text x="583" y="1328.2">0</text><text x="803" y="1328.2">1</text><text x="963" y="1328.2">0</text><text x="383" y="1346.9">0</text><text x="403" y="1346.9">1</text><text x="443" y="1346.9">1</text><text x="463" y="1346.9">0</text><text x="483" y="1346.9">1</text><text x="503" y="1346.9">0</text><text x="623" y="1346.9">1</text><text x="743" y="1346.9">0</text><text x="943" y="1346.9">0</text><text x="963" y="1346.9">0</text><text x="63" y="1365.6">1</text><text x="403" y="1365.6">1</text><text x="483" y="1365.6">0</text><text x="623" y="1365.6">0</text><text x="743" y="1365.6">1</text><text x="763" y="1365.6">0</text><text x="823" y="1365.6">1</text><text x="843" y="1365.6">0</text><text x="943" y="1365.6">1</text><text x="963" y="1365.6">0</text><text x="63" y="1384.3">0</text><text x="103" y="1384.3">1</text><text x="143" y="1384.3">1</text><text x="163" y="1384.3">0</text><text x="423" y="1384.3">0</text><text x="463" y="1384.3">0</text><text x="503" y="1384.3">1</text><text x="523" y="1384.3">1</text><text x="683" y="1384.3">0</text><text x="723" y="1384.3">0</text><text x="763" y="1384.3">1</text><text x="783" y="1384.3">1</text><text x="803" y="1384.3">0</text><text x="843" y="1384.3">0</text><text x="63" y="1403.0">0</text><text x="83" y="1403.0">0</text><text x="103" y="1403.0">0</text><text x="123" y="1403.0">0</text><text x="143" y="1403.0">0</text><text x="183" y="1403.0">1</text><text x="243" y="1403.0">0</text><text x="723" y="1403.0">1</text><text x="783" y="1403.0">1</text><text x="803" y="1403.0">0</text><text x="843" y="1403.0">1</text><text x="923" y="1403.0">0</text><text x="3" y="1421.7">1</text><text x="23" y="1421.7">0</text><text x="43" y="1421.7">0</text><text x="83" y="1421.7">0</text><text x="183" y="1421.7">0</text><text x="223" y="1421.7">1</text><text x="243" y="1421.7">0</text><text x="343" y="1421.7">0</text><text x="443" y="1421.7">1</text><text x="583" y="1421.7">1</text><text x="763" y="1421.7">0</text><text x="803" y="1421.7">1</text><text x="843" y="1421.7">0</text><text x="863" y="1421.7">1</text><text x="923" y="1421.7">1</text><text x="103" y="1440.4">1</text><text x="243" y="1440.4">0</text><text x="263" y="1440.4">1</text><text x="283" y="1440.4">0</text><text x="703" y="1440.4">0</text><text x="763" y="1440.4">0</text><text x="823" y="1440.4">1</text><text x="843" y="1440.4">1</text><text x="863" y="1440.4">0</text><text x="963" y="1440.4">1</text><text x="83" y="1459.1">1</text><text x="123" y="1459.1">1</text><text x="263" y="1459.1">0</text><text x="463" y="1459.1">0</text><text x="583" y="1459.1">0</text><text x="843" y="1459.1">1</text><text x="863" y="1459.1">1</text><text x="963" y="1459.1">0</text><text x="43" y="1477.8">1</text><text x="83" y="1477.8">0</text><text x="143" y="1477.8">0</text><text x="283" y="1477.8">1</text><text x="423" y="1477.8">0</text><text x="543" y="1477.8">1</text><text x="583" y="1477.8">1</text><text x="643" y="1477.8">0</text><text x="763" y="1477.8">1</text><text x="843" y="1477.8">0</text><text x="983" y="1477.8">1</text><text x="143" y="1496.5">1</text><text x="383" y="1496.5">1</text><text x="443" y="1496.5">0</text><text x="463" y="1496.5">0</text><text x="503" y="1496.5">1</text><text x="543" y="1496.5">1</text><text x="663" y="1496.5">1</text><text x="703" y="1496.5">1</text><text x="763" y="1496.5">1</text><text x="843" y="1496.5">1</text><text x="983" y="1496.5">1</text><text x="363" y="1515.2">0</text><text x="503" y="1515.2">0</text><text x="543" y="1515.2">1</text><text x="643" y="1515.2">0</text><text x="663" y="1515.2">0</text><text x="983" y="1515.2">0</text><text x="63" y="355.8">1</text><text x="63" y="374.8">0</text><text x="23" y="393.8">1</text><text x="43" y="393.8">0</text><text x="63" y="393.8">1</text><text x="23" y="412.8">1</text><text x="83" y="430.8">0</text><text x="23" y="467.8">0</text><text x="83" y="524.8">1</text><text x="103" y="524.8">1</text><text x="63" y="542.8">1</text><text x="63" y="561.8">1</text><text x="63" y="580.8">1</text><text x="43" y="598.8">1</text><text x="83" y="598.8">0</text><text x="43" y="617.8">1</text><text x="82" y="654.8">0</text><text x="82" y="692.8">0</text><text x="62" y="711.8">1</text><text x="703" y="109.8">0</text><text x="744" y="127.8">0</text><text x="744" y="146.8">0</text><text x="792" y="146.8">0</text><text x="811" y="146.8">0</text><text x="724" y="164.8">0</text><text x="811" y="183.8">0</text><text x="724" y="202.8">1</text><text x="8" y="16.8">0</text><text x="48" y="16.8">1</text><text x="268" y="16.8">0</text><text x="288" y="16.8">0</text><text x="308" y="34.8">0</text><text x="667" y="16.8">1</text><text x="687" y="16.8">0</text><text x="647" y="34.8">1</text><text x="667" y="34.8">0</text><text x="747" y="34.8">0</text><text x="927" y="34.8">0</text><text x="947" y="34.8">0</text><text x="435" y="494.8">0</text><text x="455" y="494.8">0</text></g>
<g font-size="8" fill="#000" fill-opacity="0.04"><text x="223" y="147.9">1</text><text x="283" y="147.9">0</text><text x="303" y="147.9">0</text><text x="323" y="147.9">1</text><text x="243" y="166.6">1</text><text x="283" y="166.6">0</text><text x="303" y="166.6">1</text><text x="223" y="185.3">0</text><text x="243" y="185.3">1</text><text x="263" y="185.3">0</text><text x="303" y="185.3">0</text><text x="323" y="185.3">1</text><text x="223" y="204.0">0</text><text x="243" y="204.0">0</text><text x="283" y="204.0">0</text><text x="323" y="204.0">0</text><text x="223" y="222.7">0</text><text x="243" y="222.7">0</text><text x="283" y="222.7">1</text><text x="323" y="222.7">1</text><text x="223" y="241.4">0</text><text x="283" y="241.4">1</text><text x="323" y="241.4">0</text><text x="223" y="260.1">1</text><text x="283" y="260.1">0</text><text x="323" y="260.1">1</text><text x="223" y="278.8">1</text><text x="283" y="278.8">1</text><text x="323" y="278.8">0</text><text x="223" y="297.5">0</text><text x="243" y="297.5">0</text><text x="283" y="297.5">1</text><text x="323" y="297.5">0</text><text x="243" y="316.2">1</text><text x="263" y="316.2">0</text><text x="283" y="316.2">1</text><text x="303" y="316.2">1</text><text x="323" y="316.2">0</text><text x="23" y="334.9">1</text><text x="43" y="334.9">1</text><text x="63" y="334.9">1</text><text x="83" y="334.9">1</text><text x="243" y="334.9">0</text><text x="283" y="334.9">1</text><text x="303" y="334.9">0</text><text x="103" y="895.9">1</text><text x="123" y="895.9">1</text><text x="143" y="895.9">1</text><text x="3" y="914.6">1</text><text x="23" y="914.6">1</text><text x="103" y="914.6">1</text><text x="123" y="914.6">1</text><text x="143" y="914.6">1</text><text x="3" y="933.3">0</text><text x="23" y="933.3">0</text><text x="83" y="933.3">1</text><text x="183" y="933.3">0</text><text x="203" y="933.3">0</text><text x="363" y="933.3">1</text><text x="383" y="933.3">0</text><text x="483" y="933.3">0</text><text x="563" y="933.3">1</text><text x="643" y="933.3">1</text><text x="683" y="933.3">1</text><text x="743" y="933.3">1</text><text x="783" y="933.3">0</text><text x="823" y="933.3">1</text><text x="843" y="933.3">1</text><text x="923" y="933.3">1</text><text x="943" y="933.3">1</text><text x="963" y="933.3">0</text><text x="23" y="952.0">1</text><text x="103" y="952.0">0</text><text x="243" y="952.0">1</text><text x="283" y="952.0">0</text><text x="323" y="952.0">0</text><text x="363" y="952.0">0</text><text x="383" y="952.0">0</text><text x="523" y="952.0">0</text><text x="743" y="952.0">1</text><text x="783" y="952.0">0</text><text x="803" y="952.0">0</text><text x="903" y="952.0">0</text><text x="963" y="952.0">0</text><text x="3" y="970.7">1</text><text x="23" y="970.7">0</text><text x="103" y="970.7">1</text><text x="143" y="970.7">0</text><text x="203" y="970.7">0</text><text x="243" y="970.7">0</text><text x="263" y="970.7">1</text><text x="283" y="970.7">1</text><text x="303" y="970.7">0</text><text x="323" y="970.7">0</text><text x="343" y="970.7">1</text><text x="363" y="970.7">1</text><text x="583" y="970.7">1</text><text x="663" y="970.7">0</text><text x="683" y="970.7">1</text><text x="783" y="970.7">0</text><text x="803" y="970.7">0</text><text x="843" y="970.7">0</text><text x="903" y="970.7">1</text><text x="43" y="989.4">1</text><text x="83" y="989.4">0</text><text x="103" y="989.4">0</text><text x="123" y="989.4">0</text><text x="143" y="989.4">0</text><text x="183" y="989.4">1</text><text x="203" y="989.4">1</text><text x="243" y="989.4">1</text><text x="263" y="989.4">1</text><text x="283" y="989.4">0</text><text x="303" y="989.4">1</text><text x="323" y="989.4">0</text><text x="363" y="989.4">1</text><text x="403" y="989.4">0</text><text x="523" y="989.4">0</text><text x="583" y="989.4">0</text><text x="843" y="989.4">0</text><text x="903" y="989.4">1</text><text x="923" y="989.4">0</text><text x="983" y="989.4">1</text><text x="3" y="1008.1">1</text><text x="43" y="1008.1">0</text><text x="83" y="1008.1">1</text><text x="203" y="1008.1">0</text><text x="223" y="1008.1">1</text><text x="243" y="1008.1">0</text><text x="263" y="1008.1">0</text><text x="283" y="1008.1">0</text><text x="323" y="1008.1">0</text><text x="423" y="1008.1">1</text><text x="703" y="1008.1">1</text><text x="743" y="1008.1">0</text><text x="803" y="1008.1">0</text><text x="843" y="1008.1">1</text><text x="903" y="1008.1">1</text><text x="43" y="1026.8">1</text><text x="83" y="1026.8">0</text><text x="103" y="1026.8">0</text><text x="163" y="1026.8">0</text><text x="203" y="1026.8">1</text><text x="243" y="1026.8">1</text><text x="263" y="1026.8">0</text><text x="383" y="1026.8">1</text><text x="403" y="1026.8">0</text><text x="423" y="1026.8">1</text><text x="443" y="1026.8">0</text><text x="483" y="1026.8">0</text><text x="563" y="1026.8">1</text><text x="623" y="1026.8">1</text><text x="643" y="1026.8">1</text><text x="723" y="1026.8">1</text><text x="743" y="1026.8">1</text><text x="783" y="1026.8">1</text><text x="823" y="1026.8">1</text><text x="843" y="1026.8">1</text><text x="903" y="1026.8">1</text><text x="943" y="1026.8">1</text><text x="983" y="1026.8">0</text><text x="103" y="1045.5">0</text><text x="163" y="1045.5">1</text><text x="263" y="1045.5">1</text><text x="283" y="1045.5">1</text><text x="303" y="1045.5">0</text><text x="463" y="1045.5">0</text><text x="543" y="1045.5">0</text><text x="563" y="1045.5">1</text><text x="603" y="1045.5">0</text><text x="663" y="1045.5">0</text><text x="743" y="1045.5">0</text><text x="783" y="1045.5">0</text><text x="843" y="1045.5">0</text><text x="923" y="1045.5">0</text><text x="963" y="1045.5">1</text><text x="983" y="1045.5">0</text><text x="3" y="1064.2">1</text><text x="103" y="1064.2">0</text><text x="143" y="1064.2">1</text><text x="243" y="1064.2">0</text><text x="263" y="1064.2">0</text><text x="283" y="1064.2">1</text><text x="443" y="1064.2">0</text><text x="483" y="1064.2">0</text><text x="543" y="1064.2">1</text><text x="563" y="1064.2">0</text><text x="623" y="1064.2">0</text><text x="643" y="1064.2">0</text><text x="663" y="1064.2">0</text><text x="683" y="1064.2">1</text><text x="823" y="1064.2">0</text><text x="843" y="1064.2">0</text><text x="943" y="1064.2">0</text><text x="983" y="1064.2">1</text><text x="3" y="1082.9">1</text><text x="103" y="1082.9">0</text><text x="123" y="1082.9">1</text><text x="163" y="1082.9">0</text><text x="223" y="1082.9">1</text><text x="243" y="1082.9">1</text><text x="263" y="1082.9">0</text><text x="283" y="1082.9">0</text><text x="363" y="1082.9">1</text><text x="423" y="1082.9">0</text><text x="443" y="1082.9">1</text><text x="483" y="1082.9">0</text><text x="543" y="1082.9">0</text><text x="583" y="1082.9">1</text><text x="683" y="1082.9">0</text><text x="763" y="1082.9">1</text><text x="803" y="1082.9">0</text><text x="823" y="1082.9">0</text><text x="843" y="1082.9">1</text><text x="863" y="1082.9">1</text><text x="963" y="1082.9">0</text><text x="983" y="1082.9">0</text><text x="3" y="1101.6">1</text><text x="23" y="1101.6">1</text><text x="43" y="1101.6">1</text><text x="63" y="1101.6">1</text><text x="103" y="1101.6">0</text><text x="163" y="1101.6">0</text><text x="203" y="1101.6">0</text><text x="243" y="1101.6">1</text><text x="263" y="1101.6">1</text><text x="283" y="1101.6">0</text><text x="363" y="1101.6">1</text><text x="403" y="1101.6">0</text><text x="423" y="1101.6">1</text><text x="463" y="1101.6">0</text><text x="483" y="1101.6">0</text><text x="523" y="1101.6">0</text><text x="543" y="1101.6">0</text><text x="583" y="1101.6">0</text><text x="623" y="1101.6">0</text><text x="663" y="1101.6">1</text><text x="703" y="1101.6">0</text><text x="723" y="1101.6">0</text><text x="743" y="1101.6">1</text><text x="803" y="1101.6">0</text><text x="823" y="1101.6">0</text><text x="923" y="1101.6">1</text><text x="983" y="1101.6">0</text><text x="3" y="1120.3">0</text><text x="43" y="1120.3">0</text><text x="83" y="1120.3">0</text><text x="103" y="1120.3">1</text><text x="183" y="1120.3">1</text><text x="203" y="1120.3">0</text><text x="263" y="1120.3">1</text><text x="283" y="1120.3">0</text><text x="323" y="1120.3">1</text><text x="343" y="1120.3">1</text><text x="383" y="1120.3">1</text><text x="403" y="1120.3">0</text><text x="483" y="1120.3">0</text><text x="523" y="1120.3">0</text><text x="543" y="1120.3">1</text><text x="623" y="1120.3">1</text><text x="683" y="1120.3">0</text><text x="723" y="1120.3">0</text><text x="743" y="1120.3">0</text><text x="803" y="1120.3">0</text><text x="843" y="1120.3">1</text><text x="883" y="1120.3">1</text><text x="923" y="1120.3">0</text><text x="943" y="1120.3">1</text><text x="963" y="1120.3">1</text><text x="3" y="1139.0">0</text><text x="63" y="1139.0">0</text><text x="103" y="1139.0">0</text><text x="123" y="1139.0">1</text><text x="143" y="1139.0">0</text><text x="183" y="1139.0">0</text><text x="263" y="1139.0">0</text><text x="323" y="1139.0">0</text><text x="383" y="1139.0">0</text><text x="483" y="1139.0">0</text><text x="543" y="1139.0">0</text><text x="623" y="1139.0">0</text><text x="643" y="1139.0">0</text><text x="743" y="1139.0">1</text><text x="803" y="1139.0">0</text><text x="843" y="1139.0">0</text><text x="863" y="1139.0">1</text><text x="903" y="1139.0">1</text><text x="923" y="1139.0">1</text><text x="63" y="1157.7">1</text><text x="83" y="1157.7">1</text><text x="123" y="1157.7">1</text><text x="183" y="1157.7">0</text><text x="263" y="1157.7">1</text><text x="303" y="1157.7">0</text><text x="383" y="1157.7">1</text><text x="423" y="1157.7">0</text><text x="523" y="1157.7">1</text><text x="543" y="1157.7">0</text><text x="563" y="1157.7">1</text><text x="623" y="1157.7">1</text><text x="643" y="1157.7">1</text><text x="683" y="1157.7">1</text><text x="723" y="1157.7">0</text><text x="743" y="1157.7">1</text><text x="763" y="1157.7">0</text><text x="843" y="1157.7">0</text><text x="903" y="1157.7">0</text><text x="923" y="1157.7">1</text><text x="23" y="1176.4">1</text><text x="63" y="1176.4">1</text><text x="83" y="1176.4">1</text><text x="123" y="1176.4">0</text><text x="263" y="1176.4">1</text><text x="303" y="1176.4">1</text><text x="323" y="1176.4">1</text><text x="363" y="1176.4">1</text><text x="383" y="1176.4">1</text><text x="423" y="1176.4">0</text><text x="523" y="1176.4">0</text><text x="563" y="1176.4">1</text><text x="663" y="1176.4">1</text><text x="703" y="1176.4">0</text><text x="723" y="1176.4">1</text><text x="743" y="1176.4">0</text><text x="803" y="1176.4">0</text><text x="883" y="1176.4">0</text><text x="903" y="1176.4">0</text><text x="923" y="1176.4">1</text><text x="43" y="1195.1">0</text><text x="63" y="1195.1">1</text><text x="83" y="1195.1">0</text><text x="123" y="1195.1">1</text><text x="143" y="1195.1">0</text><text x="263" y="1195.1">1</text><text x="303" y="1195.1">0</text><text x="363" y="1195.1">0</text><text x="383" y="1195.1">0</text><text x="403" y="1195.1">1</text><text x="523" y="1195.1">1</text><text x="563" y="1195.1">1</text><text x="583" y="1195.1">1</text><text x="623" y="1195.1">1</text><text x="743" y="1195.1">1</text><text x="803" y="1195.1">1</text><text x="863" y="1195.1">0</text><text x="903" y="1195.1">1</text><text x="983" y="1195.1">0</text><text x="3" y="1213.8">0</text><text x="43" y="1213.8">1</text><text x="63" y="1213.8">0</text><text x="103" y="1213.8">0</text><text x="123" y="1213.8">1</text><text x="143" y="1213.8">0</text><text x="163" y="1213.8">1</text><text x="263" y="1213.8">0</text><text x="303" y="1213.8">0</text><text x="363" y="1213.8">1</text><text x="383" y="1213.8">1</text><text x="403" y="1213.8">1</text><text x="443" y="1213.8">0</text><text x="503" y="1213.8">1</text><text x="563" y="1213.8">1</text><text x="583" y="1213.8">0</text><text x="623" y="1213.8">1</text><text x="643" y="1213.8">1</text><text x="723" y="1213.8">0</text><text x="763" y="1213.8">0</text><text x="863" y="1213.8">0</text><text x="903" y="1213.8">1</text><text x="963" y="1213.8">0</text><text x="983" y="1213.8">1</text><text x="43" y="1232.5">1</text><text x="63" y="1232.5">1</text><text x="103" y="1232.5">1</text><text x="163" y="1232.5">0</text><text x="263" y="1232.5">1</text><text x="283" y="1232.5">1</text><text x="303" y="1232.5">1</text><text x="363" y="1232.5">1</text><text x="383" y="1232.5">0</text><text x="403" y="1232.5">1</text><text x="443" y="1232.5">0</text><text x="583" y="1232.5">0</text><text x="623" y="1232.5">1</text><text x="643" y="1232.5">1</text><text x="683" y="1232.5">0</text><text x="703" y="1232.5">0</text><text x="723" y="1232.5">0</text><text x="763" y="1232.5">1</text><text x="823" y="1232.5">1</text><text x="863" y="1232.5">0</text><text x="903" y="1232.5">0</text><text x="943" y="1232.5">0</text><text x="963" y="1232.5">0</text><text x="983" y="1232.5">1</text><text x="23" y="1251.2">0</text><text x="43" y="1251.2">1</text><text x="63" y="1251.2">1</text><text x="83" y="1251.2">0</text><text x="103" y="1251.2">0</text><text x="263" y="1251.2">0</text><text x="283" y="1251.2">1</text><text x="303" y="1251.2">0</text><text x="363" y="1251.2">1</text><text x="383" y="1251.2">1</text><text x="403" y="1251.2">1</text><text x="443" y="1251.2">1</text><text x="583" y="1251.2">0</text><text x="603" y="1251.2">0</text><text x="623" y="1251.2">0</text><text x="683" y="1251.2">1</text><text x="703" y="1251.2">1</text><text x="763" y="1251.2">0</text><text x="783" y="1251.2">1</text><text x="843" y="1251.2">0</text><text x="863" y="1251.2">1</text><text x="23" y="1269.9">1</text><text x="43" y="1269.9">0</text><text x="63" y="1269.9">1</text><text x="83" y="1269.9">1</text><text x="163" y="1269.9">1</text><text x="183" y="1269.9">1</text><text x="203" y="1269.9">1</text><text x="223" y="1269.9">0</text><text x="263" y="1269.9">0</text><text x="383" y="1269.9">0</text><text x="443" y="1269.9">1</text><text x="503" y="1269.9">1</text><text x="583" y="1269.9">0</text><text x="623" y="1269.9">0</text><text x="663" y="1269.9">0</text><text x="703" y="1269.9">0</text><text x="723" y="1269.9">0</text><text x="763" y="1269.9">0</text><text x="843" y="1269.9">1</text><text x="883" y="1269.9">0</text><text x="23" y="1288.6">1</text><text x="43" y="1288.6">0</text><text x="63" y="1288.6">1</text><text x="103" y="1288.6">1</text><text x="143" y="1288.6">1</text><text x="163" y="1288.6">0</text><text x="183" y="1288.6">0</text><text x="203" y="1288.6">1</text><text x="223" y="1288.6">1</text><text x="243" y="1288.6">1</text><text x="263" y="1288.6">0</text><text x="423" y="1288.6">1</text><text x="443" y="1288.6">0</text><text x="503" y="1288.6">1</text><text x="543" y="1288.6">0</text><text x="603" y="1288.6">0</text><text x="623" y="1288.6">0</text><text x="703" y="1288.6">1</text><text x="723" y="1288.6">0</text><text x="763" y="1288.6">0</text><text x="843" y="1288.6">0</text><text x="883" y="1288.6">1</text><text x="983" y="1288.6">0</text><text x="3" y="1307.3">0</text><text x="23" y="1307.3">0</text><text x="63" y="1307.3">1</text><text x="83" y="1307.3">1</text><text x="123" y="1307.3">0</text><text x="163" y="1307.3">0</text><text x="183" y="1307.3">1</text><text x="203" y="1307.3">1</text><text x="223" y="1307.3">1</text><text x="263" y="1307.3">0</text><text x="343" y="1307.3">0</text><text x="403" y="1307.3">1</text><text x="423" y="1307.3">1</text><text x="443" y="1307.3">1</text><text x="503" y="1307.3">1</text><text x="523" y="1307.3">0</text><text x="603" y="1307.3">1</text><text x="623" y="1307.3">1</text><text x="763" y="1307.3">1</text><text x="803" y="1307.3">1</text><text x="843" y="1307.3">1</text><text x="863" y="1307.3">1</text><text x="883" y="1307.3">0</text><text x="983" y="1307.3">1</text><text x="43" y="1326.0">0</text><text x="63" y="1326.0">1</text><text x="83" y="1326.0">1</text><text x="103" y="1326.0">0</text><text x="183" y="1326.0">1</text><text x="203" y="1326.0">1</text><text x="223" y="1326.0">0</text><text x="243" y="1326.0">1</text><text x="283" y="1326.0">1</text><text x="363" y="1326.0">0</text><text x="383" y="1326.0">0</text><text x="403" y="1326.0">1</text><text x="423" y="1326.0">1</text><text x="443" y="1326.0">1</text><text x="503" y="1326.0">0</text><text x="603" y="1326.0">1</text><text x="623" y="1326.0">1</text><text x="643" y="1326.0">1</text><text x="763" y="1326.0">1</text><text x="843" y="1326.0">0</text><text x="863" y="1326.0">0</text><text x="903" y="1326.0">0</text><text x="63" y="1344.7">0</text><text x="83" y="1344.7">1</text><text x="103" y="1344.7">1</text><text x="183" y="1344.7">0</text><text x="203" y="1344.7">1</text><text x="223" y="1344.7">0</text><text x="243" y="1344.7">1</text><text x="283" y="1344.7">0</text><text x="303" y="1344.7">1</text><text x="323" y="1344.7">0</text><text x="343" y="1344.7">0</text><text x="363" y="1344.7">0</text><text x="423" y="1344.7">1</text><text x="583" y="1344.7">0</text><text x="763" y="1344.7">0</text><text x="823" y="1344.7">1</text><text x="863" y="1344.7">0</text><text x="83" y="1363.4">1</text><text x="103" y="1363.4">0</text><text x="163" y="1363.4">1</text><text x="183" y="1363.4">1</text><text x="203" y="1363.4">1</text><text x="223" y="1363.4">0</text><text x="283" y="1363.4">1</text><text x="303" y="1363.4">0</text><text x="323" y="1363.4">1</text><text x="423" y="1363.4">0</text><text x="443" y="1363.4">0</text><text x="503" y="1363.4">0</text><text x="543" y="1363.4">0</text><text x="583" y="1363.4">0</text><text x="663" y="1363.4">1</text><text x="723" y="1363.4">0</text><text x="863" y="1363.4">0</text><text x="903" y="1363.4">1</text><text x="3" y="1382.1">1</text><text x="83" y="1382.1">0</text><text x="183" y="1382.1">1</text><text x="223" y="1382.1">0</text><text x="243" y="1382.1">1</text><text x="283" y="1382.1">1</text><text x="303" y="1382.1">0</text><text x="323" y="1382.1">0</text><text x="343" y="1382.1">0</text><text x="443" y="1382.1">1</text><text x="483" y="1382.1">1</text><text x="543" y="1382.1">0</text><text x="563" y="1382.1">0</text><text x="583" y="1382.1">0</text><text x="623" y="1382.1">1</text><text x="663" y="1382.1">0</text><text x="703" y="1382.1">1</text><text x="743" y="1382.1">0</text><text x="863" y="1382.1">1</text><text x="903" y="1382.1">1</text><text x="3" y="1400.8">1</text><text x="203" y="1400.8">1</text><text x="223" y="1400.8">0</text><text x="263" y="1400.8">0</text><text x="283" y="1400.8">0</text><text x="303" y="1400.8">1</text><text x="323" y="1400.8">0</text><text x="363" y="1400.8">0</text><text x="383" y="1400.8">1</text><text x="443" y="1400.8">1</text><text x="463" y="1400.8">1</text><text x="483" y="1400.8">1</text><text x="503" y="1400.8">0</text><text x="523" y="1400.8">0</text><text x="543" y="1400.8">1</text><text x="583" y="1400.8">0</text><text x="623" y="1400.8">0</text><text x="663" y="1400.8">1</text><text x="703" y="1400.8">0</text><text x="743" y="1400.8">0</text><text x="863" y="1400.8">0</text><text x="903" y="1400.8">1</text><text x="983" y="1400.8">1</text><text x="63" y="1419.5">0</text><text x="163" y="1419.5">0</text><text x="203" y="1419.5">1</text><text x="263" y="1419.5">0</text><text x="283" y="1419.5">0</text><text x="303" y="1419.5">0</text><text x="323" y="1419.5">1</text><text x="363" y="1419.5">1</text><text x="383" y="1419.5">0</text><text x="463" y="1419.5">0</text><text x="503" y="1419.5">0</text><text x="523" y="1419.5">1</text><text x="543" y="1419.5">0</text><text x="603" y="1419.5">1</text><text x="623" y="1419.5">0</text><text x="663" y="1419.5">0</text><text x="723" y="1419.5">0</text><text x="743" y="1419.5">0</text><text x="783" y="1419.5">1</text><text x="903" y="1419.5">0</text><text x="63" y="1438.2">1</text><text x="163" y="1438.2">0</text><text x="183" y="1438.2">1</text><text x="223" y="1438.2">1</text><text x="303" y="1438.2">0</text><text x="323" y="1438.2">0</text><text x="343" y="1438.2">1</text><text x="363" y="1438.2">1</text><text x="463" y="1438.2">1</text><text x="503" y="1438.2">1</text><text x="523" y="1438.2">0</text><text x="543" y="1438.2">0</text><text x="583" y="1438.2">1</text><text x="603" y="1438.2">1</text><text x="623" y="1438.2">0</text><text x="643" y="1438.2">0</text><text x="743" y="1438.2">0</text><text x="783" y="1438.2">1</text><text x="803" y="1438.2">0</text><text x="923" y="1438.2">1</text><text x="103" y="1456.9">1</text><text x="243" y="1456.9">1</text><text x="323" y="1456.9">1</text><text x="343" y="1456.9">1</text><text x="363" y="1456.9">1</text><text x="503" y="1456.9">1</text><text x="523" y="1456.9">1</text><text x="543" y="1456.9">0</text><text x="623" y="1456.9">1</text><text x="643" y="1456.9">1</text><text x="743" y="1456.9">1</text><text x="783" y="1456.9">0</text><text x="803" y="1456.9">0</text><text x="943" y="1456.9">1</text><text x="123" y="1475.6">1</text><text x="243" y="1475.6">0</text><text x="263" y="1475.6">0</text><text x="323" y="1475.6">1</text><text x="363" y="1475.6">0</text><text x="463" y="1475.6">1</text><text x="483" y="1475.6">1</text><text x="503" y="1475.6">1</text><text x="523" y="1475.6">1</text><text x="563" y="1475.6">1</text><text x="603" y="1475.6">1</text><text x="703" y="1475.6">1</text><text x="723" y="1475.6">1</text><text x="743" y="1475.6">0</text><text x="783" y="1475.6">0</text><text x="803" y="1475.6">1</text><text x="863" y="1475.6">0</text><text x="883" y="1475.6">1</text><text x="23" y="1494.3">0</text><text x="43" y="1494.3">0</text><text x="83" y="1494.3">1</text><text x="123" y="1494.3">1</text><text x="243" y="1494.3">0</text><text x="263" y="1494.3">1</text><text x="283" y="1494.3">1</text><text x="363" y="1494.3">0</text><text x="423" y="1494.3">1</text><text x="483" y="1494.3">1</text><text x="523" y="1494.3">1</text><text x="563" y="1494.3">1</text><text x="743" y="1494.3">0</text><text x="783" y="1494.3">1</text><text x="803" y="1494.3">1</text><text x="863" y="1494.3">0</text><text x="883" y="1494.3">0</text><text x="903" y="1494.3">1</text><text x="23" y="1513.0">1</text><text x="43" y="1513.0">0</text><text x="123" y="1513.0">1</text><text x="183" y="1513.0">0</text><text x="243" y="1513.0">0</text><text x="303" y="1513.0">0</text><text x="383" y="1513.0">0</text><text x="423" y="1513.0">0</text><text x="443" y="1513.0">0</text><text x="463" y="1513.0">0</text><text x="523" y="1513.0">1</text><text x="563" y="1513.0">1</text><text x="583" y="1513.0">0</text><text x="603" y="1513.0">0</text><text x="703" y="1513.0">1</text><text x="743" y="1513.0">0</text><text x="763" y="1513.0">1</text><text x="803" y="1513.0">0</text><text x="823" y="1513.0">1</text><text x="843" y="1513.0">0</text><text x="863" y="1513.0">1</text><text x="883" y="1513.0">1</text><text x="943" y="1513.0">0</text><text x="63" y="410.6">0</text><text x="83" y="410.6">0</text><text x="103" y="410.6">0</text><text x="43" y="484.6">0</text><text x="63" y="484.6">1</text><text x="43" y="503.6">1</text><text x="83" y="503.6">1</text><text x="23" y="559.6">0</text><text x="63" y="596.6">1</text><text x="23" y="615.6">0</text><text x="62" y="634.6">1</text><text x="62" y="652.6">0</text><text x="82" y="672.6">1</text><text x="22" y="690.6">1</text><text x="62" y="690.6">1</text><text x="724" y="107.6">0</text><text x="792" y="107.6">1</text><text x="703" y="144.6">1</text><text x="744" y="162.6">0</text><text x="811" y="162.6">1</text><text x="744" y="200.6">1</text></g>
</g>
</svg>
</div>
</body>
</html>
